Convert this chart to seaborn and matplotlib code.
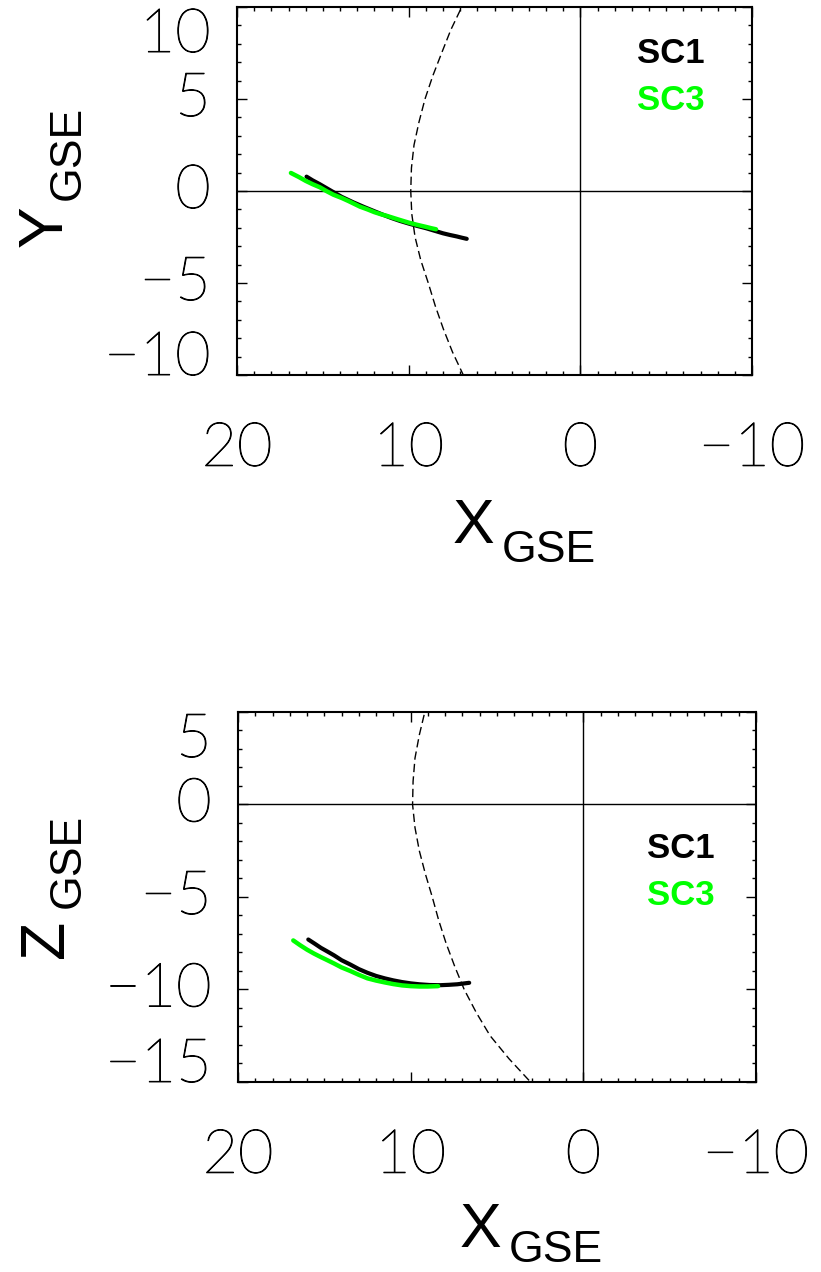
import matplotlib
matplotlib.use("Agg")
import matplotlib.pyplot as plt
import matplotlib.patheffects as pe
import seaborn as sns
from matplotlib.ticker import MultipleLocator

# ---------------- data ----------------
# Top panel: Y_GSE vs X_GSE
sc1_xy_x = [15.95, 15.6, 15.2, 14.85, 14.5, 13.9, 13.22, 12.6, 12.0, 11.5, 11.0, 10.5, 10.0, 9.5, 9.0, 8.5, 8.0, 7.6, 7.2, 6.9, 6.62]
sc1_xy_y = [0.78, 0.58, 0.38, 0.19, 0.0, -0.32, -0.62, -0.87, -1.1, -1.29, -1.47, -1.63, -1.77, -1.9, -2.02, -2.16, -2.3, -2.39, -2.47, -2.54, -2.6]
sc3_xy_x = [16.86, 16.4, 16.0, 15.6, 15.17, 14.8, 14.39, 13.9, 13.5, 12.84, 12.4, 12.0, 11.6, 11.28, 10.6, 10.0, 9.5, 9.0, 8.7, 8.41]
sc3_xy_y = [0.98, 0.76, 0.55, 0.37, 0.2, 0.0, -0.2, -0.38, -0.55, -0.85, -1.0, -1.15, -1.27, -1.35, -1.55, -1.72, -1.84, -1.95, -2.02, -2.08]
mp_xy_y = [10.5, 10.0, 8.75, 7.5, 6.25, 5.0, 3.75, 2.5, 1.25, 0.0, -1.25, -2.5, -3.75, -5.0, -6.25, -7.5, -8.75, -10.0, -10.5]
mp_xy_x = [6.6, 6.91, 7.55, 8.08, 8.6, 9.05, 9.4, 9.69, 9.84, 9.88, 9.82, 9.63, 9.3, 8.86, 8.45, 7.98, 7.45, 6.82, 6.5]

# Bottom panel: Z_GSE vs X_GSE
sc1_xz_x = [15.93, 15.55, 15.2, 14.8, 14.43, 14.0, 13.5, 13.0, 12.5, 12.0, 11.5, 11.0, 10.5, 10.0, 9.5, 8.9, 8.3, 7.8, 7.3, 6.95, 6.61]
sc1_xz_z = [-7.3, -7.53, -7.75, -7.96, -8.16, -8.42, -8.65, -8.9, -9.1, -9.27, -9.4, -9.51, -9.6, -9.67, -9.72, -9.76, -9.77, -9.75, -9.72, -9.68, -9.64]
sc3_xz_x = [16.8, 16.4, 16.0, 15.6, 15.2, 14.8, 14.43, 14.0, 13.5, 13.0, 12.5, 12.0, 11.5, 11.0, 10.5, 10.0, 9.5, 9.0, 8.41]
sc3_xz_z = [-7.35, -7.61, -7.85, -8.06, -8.25, -8.43, -8.6, -8.81, -9.0, -9.21, -9.4, -9.52, -9.62, -9.71, -9.78, -9.82, -9.84, -9.84, -9.82]
mp_xz_z = [5.5, 5.0, 3.75, 2.5, 1.25, 0.0, -1.25, -2.5, -3.75, -5.0, -6.25, -7.5, -8.75, -10.0, -11.25, -12.5, -13.75, -15.0, -15.5]
mp_xz_x = [9.05, 9.18, 9.5, 9.75, 9.86, 9.89, 9.75, 9.5, 9.15, 8.75, 8.38, 7.95, 7.45, 6.9, 6.2, 5.4, 4.3, 3.06, 2.7]

x_ticks = [20, 10, 0, -10]
x_ticklabels = ["20", "10", "0", "\u221210"]
y_ticks_top = [10, 5, 0, -5, -10]
y_ticklabels_top = ["10", "5", "0", "\u22125", "\u221210"]
y_ticks_bot = [5, 0, -5, -10, -15]
y_ticklabels_bot = ["5", "0", "\u22125", "\u221210", "\u221215"]
legend_names = ["SC1", "SC3"]
colors = {"SC1": "#000000", "SC3": "#00FF00"}

# ---------------- style ----------------
sns.set_theme(style="white")
plt.rcParams["font.family"] = ["Liberation Sans", "DejaVu Sans"]
plt.rcParams["text.color"] = "black"
plt.rcParams["axes.labelcolor"] = "black"
plt.rcParams["xtick.color"] = "black"
plt.rcParams["ytick.color"] = "black"
plt.rcParams["axes.unicode_minus"] = True

TICK_FONT = ["Lato", "DejaVu Sans"]
TICK_FX = [pe.withStroke(linewidth=0.7, foreground="black")]

fig = plt.figure(figsize=(8.21, 12.72), dpi=100)
ax1 = fig.add_axes([0.2887, 0.7052, 0.6273, 0.2893])
ax2 = fig.add_axes([0.2899, 0.1494, 0.6309, 0.2909])


def sub_label(ax, main, sub, main_pos, sub_pos, rotation=0):
    ax.text(*main_pos, main, transform=ax.transAxes, fontsize=45, color="black",
            ha="left", va="baseline", rotation=rotation, rotation_mode="anchor",
            clip_on=False)
    ax.text(*sub_pos, sub, transform=ax.transAxes, fontsize=32, color="black",
            ha="left", va="baseline", rotation=rotation, rotation_mode="anchor",
            clip_on=False)


def draw_panel(ax, sc1x, sc1y, sc3x, sc3y, mpx, mpy, ylim, yticks, yticklabels,
               ylab, ylab_pos, xlab_pos, leg_pos):
    ax.axhline(0, color="black", lw=1.0, zorder=1)
    ax.axvline(0, color="black", lw=1.0, zorder=1)
    sns.lineplot(x=mpx, y=mpy, sort=False, estimator=None, color="black",
                 lw=1.0, ax=ax, zorder=2)
    ax.lines[-1].set_dashes([6, 3])
    sns.lineplot(x=sc1x, y=sc1y, sort=False, estimator=None, color=colors["SC1"],
                 lw=3.0, ax=ax, zorder=3)
    sns.lineplot(x=sc3x, y=sc3y, sort=False, estimator=None, color=colors["SC3"],
                 lw=3.2, ax=ax, zorder=4)

    ax.set_xlim(20, -10)
    ax.set_ylim(*ylim)
    ax.set_xticks(x_ticks)
    ax.set_xticklabels(x_ticklabels, fontsize=44, family=TICK_FONT,
                       fontweight="light", color="black")
    ax.set_yticks(yticks)
    ax.set_yticklabels(yticklabels, fontsize=44, family=TICK_FONT,
                       fontweight="light", color="black")
    ax.xaxis.set_minor_locator(MultipleLocator(1))
    ax.yaxis.set_minor_locator(MultipleLocator(1))
    ax.tick_params(which="both", direction="in", top=True, right=True,
                   bottom=True, left=True, color="black", width=1.0)
    ax.tick_params(which="major", length=7.5)
    ax.tick_params(which="minor", length=3.0)
    ax.tick_params(axis="x", which="major", pad=33)
    ax.tick_params(axis="y", which="major", pad=19)
    for lb in ax.get_xticklabels():
        lb.set_path_effects(TICK_FX)
    labs = ax.get_yticklabels()
    for lb in labs:
        lb.set_va("center")
        lb.set_path_effects(TICK_FX)
    labs[0].set_va("top")
    labs[-1].set_va("baseline")

    for sp in ax.spines.values():
        sp.set_visible(True)
        sp.set_color("black")
        sp.set_linewidth(1.5)
    ax.set_facecolor("white")
    ax.grid(False)
    ax.set_xlabel("")
    ax.set_ylabel("")

    sub_label(ax, "X", "GSE", xlab_pos[0], xlab_pos[1])
    sub_label(ax, ylab, "GSE", ylab_pos[0], ylab_pos[1], rotation=90)

    lx, ly1, ly2 = leg_pos
    ax.text(lx, ly1, legend_names[0], transform=ax.transAxes, fontsize=25,
            fontweight="bold", color=colors["SC1"], va="baseline", ha="left")
    ax.text(lx, ly2, legend_names[1], transform=ax.transAxes, fontsize=25,
            fontweight="bold", color=colors["SC3"], va="baseline", ha="left")


draw_panel(ax1, sc1_xy_x, sc1_xy_y, sc3_xy_x, sc3_xy_y, mp_xy_x, mp_xy_y,
           (-10, 10), y_ticks_top, y_ticklabels_top,
           "Y", ((-0.3398, 0.3478), (-0.3049, 0.4755)),
           ((0.4194, -0.4565), (0.5146, -0.5082)),
           (0.777, 0.848, 0.720))
draw_panel(ax2, sc1_xz_x, sc1_xz_z, sc3_xz_x, sc3_xz_z, mp_xz_x, mp_xz_z,
           (-15, 5), y_ticks_bot, y_ticklabels_bot,
           "Z", ((-0.3378, 0.3351), (-0.305, 0.4703)),
           ((0.4286, -0.446), (0.5232, -0.486)),
           (0.790, 0.605, 0.478))

fig.savefig("out.png", dpi=100, facecolor="white")
